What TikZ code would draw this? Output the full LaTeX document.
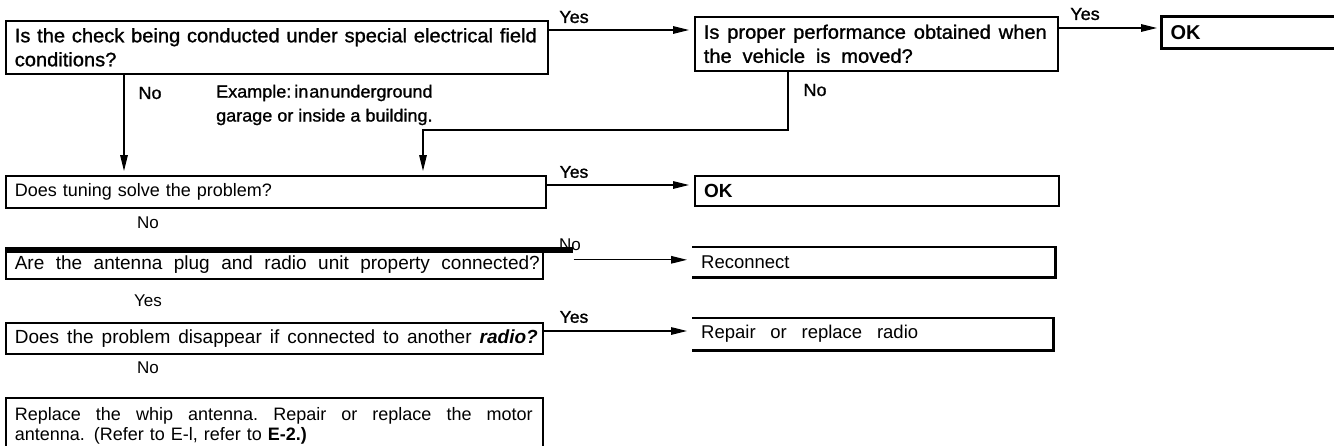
\documentclass[tikz,border=0pt]{standalone}
\usepackage{fontspec}
\setmainfont{Liberation Sans}
\newfontfamily\topfont[FakeStretch=1.03,FakeBold=1.2]{Liberation Sans}
\usetikzlibrary{arrows.meta,calc}
\newcommand{\spreadto}[2]{\hbox to #1{\frenchspacing\spaceskip=0.26em plus 1fil\relax #2}}
\tikzset{
  box/.style={draw, line width=1.6pt, anchor=north west, inner xsep=9pt, inner ysep=0pt, align=left},
  okbox/.style={box, line width=3pt},
  openbox/.style={anchor=north west, inner xsep=9pt, inner ysep=0pt, align=left},
  openline/.style={line width=2.6pt, line join=miter},
  arr/.style={-{Triangle[length=16pt,width=7.5pt]}, line width=1.3pt},
  vtop/.style={font=\topfont\fontsize{19.5}{24}\selectfont},
  vlow/.style={font=\fontsize{18}{20.5}\selectfont},
  vbig/.style={font=\fontsize{19}{21}\selectfont},
  vres/.style={font=\fontsize{18.5}{20}\selectfont},
  lbltop/.style={inner sep=0pt, font=\topfont\fontsize{17.5}{20}\selectfont},
  lblbold/.style={inner sep=0pt, font=\topfont\fontsize{17}{20}\selectfont},
  lbllow/.style={inner sep=0pt, font=\fontsize{17}{20}\selectfont}
}
\begin{document}
\begin{tikzpicture}[x=1pt,y=-1pt]
\fill[white] (0,0) rectangle (1334,445);
\useasboundingbox (0,0) rectangle (1334,445);

% row 1
\node[box, vtop, text width=524pt, minimum height=53pt] (q1) at (5,20)
  {\spreadto{522pt}{Is the check being conducted under special electrical field}\\conditions?};
\node[box, vtop, text width=345pt, minimum height=54pt] (q2) at (694,16)
  {\spreadto{343pt}{Is proper performance obtained when}\\\spreadto{209pt}{the vehicle is moved?}};
\node[okbox, font=\bfseries\fontsize{20}{22}\selectfont, text width=182pt, minimum height=32pt] (ok1) at (1160,15) {OK};

% row 2
\node[box, vlow, text width=522pt, minimum height=32pt] (q3) at (5,175) {Does tuning solve the problem?};
\node[okbox, line width=2.2pt, font=\bfseries\fontsize{19}{22}\selectfont, text width=346pt, minimum height=30pt] (ok2) at (694,175) {OK};

% row 3
\node[box, vbig, text width=519pt, minimum height=28pt] (q4) at (5,250)
  {\spreadto{525pt}{Are the antenna plug and radio unit property connected?}};
\node[openbox, vres, text width=345pt, minimum height=30pt] (rc) at (692,247) {\spreadto{96pt}{Reconnect}};
\draw[openline] (rc.north west) -- (rc.north east) -- (rc.south east) -- (rc.south west);

% row 4
\node[box, vbig, text width=519pt, minimum height=31pt] (q5) at (5,322)
  {\spreadto{523pt}{Does the problem disappear if connected to another \textbf{\textit{radio?}}}};
\node[openbox, vres, text width=343pt, minimum height=32pt] (rp) at (692,318)
  {\spreadto{217pt}{Repair or replace radio}};
\draw[openline] (rp.north west) -- (rp.north east) -- (rp.south east) -- (rp.south west);

% row 5
\node[box, vlow, text width=519pt, minimum height=56pt] (q6) at (5,397)
  {\spreadto{518pt}{Replace the whip antenna. Repair or replace the motor}\\antenna. (Refer to E-l, refer to \textbf{E-2.)}};

% labels
\node[lbltop] (y1) at (574,17) {Yes};
\node[lbltop] (y2) at (1085,14) {Yes};
\node[lbltop] (no1) at (150,93) {No};
\node[lbltop, anchor=west, align=left, font=\topfont\fontsize{17.5}{24}\selectfont] (ex) at (216,105)
  {Example:\hspace{3pt}in\hspace{1pt}an\hspace{1pt}underground\\garage or inside a building.};
\node[lbltop] (no2) at (815,90) {No};
\node[lblbold] (y3) at (574,172) {Yes};
\node[lbllow] (no3) at (148,223) {No};
\node[lbllow] (no4) at (570,245) {No};
\node[lbllow] (y4) at (148,301) {Yes};
\node[lblbold] (y5) at (574,317) {Yes};
\node[lbllow] (no5) at (148,368) {No};

% thick bar over question 4
\coordinate (barend) at (573,250);
\draw[line width=6pt] (q4.north west) -- (barend);

% connectors
\coordinate (a1) at ([yshift=-10pt]q1.north east);
\draw[arr, shorten >=5pt] (a1) -- (a1 -| q2.west);
\coordinate (a2) at ([yshift=-12pt]q2.north east);
\draw[arr, shorten >=3pt] (a2) -- (a2 -| ok1.west);
\coordinate (n1) at ([xshift=119pt]q1.south west);
\draw[arr, shorten >=4pt] (n1) -- (n1 |- q3.north);
\coordinate (n2) at ([xshift=94pt]q2.south west);
\coordinate (k2) at (423,130);
\draw[arr, shorten >=4pt] (n2) |- (k2) -- (k2 |- q3.north);
\coordinate (a3) at ([yshift=-10pt]q3.north east);
\draw[arr, shorten >=5pt] (a3) -- (a3 -| ok2.west);
\coordinate (a4) at ([xshift=30pt,yshift=5pt]q4.east);
\draw[arr, shorten >=5pt] (a4) -- (a4 -| rc.west);
\coordinate (a5) at ([yshift=-9pt]q5.north east);
\draw[arr, shorten >=5pt] (a5) -- (a5 -| rp.west);
\end{tikzpicture}
\end{document}
